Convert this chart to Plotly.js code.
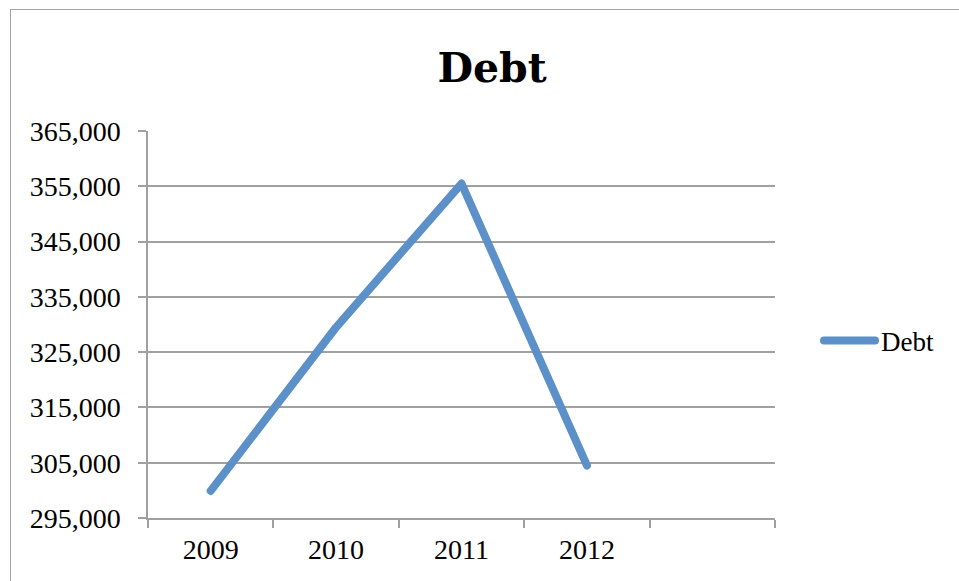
<!DOCTYPE html>
<html>
<head>
<meta charset="utf-8">
<script src="https://cdn.plot.ly/plotly-3.0.1.min.js"></script>
<style>
html, body { margin: 0; padding: 0; background: #fff; overflow: hidden; }
#frame { position: absolute; left: 10px; top: 9px; width: 1000px; height: 700px;
         border-left: 1.5px solid #a3a3a3; border-top: 1.5px solid #a3a3a3; pointer-events: none; z-index: 5; }
#chart { position: absolute; left: 0; top: 0; width: 959px; height: 581px; }
.js-line, .legendlines path { stroke-linecap: round !important; stroke-linejoin: round !important; }
</style>
</head>
<body>
<div id="chart"></div>
<div id="frame"></div>
<script>
const years = ['2009', '2010', '2011', '2012'];
const debt = [299900, 329500, 355500, 304500];
const categoryOrder = ['2009', '2010', '2011', '2012', ' '];
const yTicks = [295000, 305000, 315000, 325000, 335000, 345000, 355000, 365000];

const lineColor = '#5b90c8';
const axisGray = '#a0a0a0';

const trace = {
  x: years,
  y: debt,
  type: 'scatter',
  mode: 'lines',
  name: 'Debt',
  line: { color: lineColor, width: 8 },
  hoverinfo: 'x+y'
};

const layout = {
  width: 959,
  height: 581,
  paper_bgcolor: '#ffffff',
  plot_bgcolor: '#ffffff',
  margin: { l: 148, r: 184, t: 131, b: 63, pad: 0 },
  title: {
    text: 'Debt',
    font: { family: 'DejaVu Serif', size: 41, color: '#000', weight: 'bold' },
    x: 492 / 959, xanchor: 'center', xref: 'container',
    y: 1 - 68 / 581, yanchor: 'middle', yref: 'container'
  },
  xaxis: {
    type: 'category',
    categoryorder: 'array',
    categoryarray: categoryOrder,
    range: [-0.5, 4.5],
    tickson: 'boundaries',
    ticks: 'outside',
    ticklen: 8,
    tickwidth: 1.5,
    tickcolor: axisGray,
    ticklabelstandoff: 6,
    showline: true,
    linecolor: axisGray,
    linewidth: 1.5,
    showgrid: false,
    zeroline: false,
    tickfont: { family: 'Liberation Serif', size: 28, color: '#000' },
    fixedrange: true
  },
  yaxis: {
    range: [295000, 365000],
    tickvals: yTicks,
    tickformat: ',d',
    ticks: 'outside',
    ticklen: 8,
    tickwidth: 1.5,
    tickcolor: axisGray,
    ticklabelstandoff: 12,
    showline: true,
    linecolor: axisGray,
    linewidth: 1.5,
    showgrid: true,
    gridcolor: axisGray,
    gridwidth: 1.5,
    zeroline: false,
    tickfont: { family: 'Liberation Serif', size: 28, color: '#000' },
    fixedrange: true
  },
  showlegend: true,
  legend: {
    x: 1 + (814 - 775) / 627, xanchor: 'left',
    y: (518 - 341) / 387, yanchor: 'middle',
    font: { family: 'Liberation Serif', size: 27, color: '#000' },
    bgcolor: 'rgba(0,0,0,0)',
    borderwidth: 0,
    itemwidth: 57
  }
};

const gd = document.getElementById('chart');
function stretchLegendLine() {
  gd.querySelectorAll('.legendlines path').forEach(function (p) {
    p.setAttribute('d', 'M10,0h51');
  });
}
Plotly.newPlot(gd, [trace], layout, { displayModeBar: false }).then(function () {
  stretchLegendLine();
  gd.on('plotly_afterplot', stretchLegendLine);
});
</script>
</body>
</html>
